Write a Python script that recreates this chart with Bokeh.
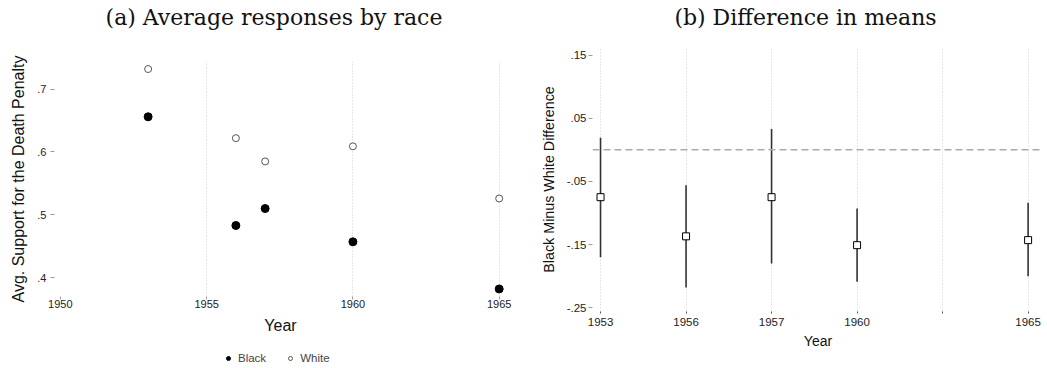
from bokeh.plotting import figure
from bokeh.layouts import row, column
from bokeh.models import ColumnDataSource, FixedTicker, Legend, LegendItem, Span, Range1d, Label
from bokeh.embed import file_html
from bokeh.resources import INLINE

# Average support for the death penalty, by survey year and race
years = [1953, 1956, 1957, 1960, 1965]
black_mean = [0.656, 0.483, 0.510, 0.457, 0.382]
white_mean = [0.732, 0.622, 0.585, 0.609, 0.526]

# Black minus white difference with confidence interval
diff_slots = ["1953", "1956", "1957", "1960", "", "1965"]
diff_years = ["1953", "1956", "1957", "1960", "1965"]
diff_est = [-0.075, -0.137, -0.075, -0.151, -0.143]
diff_lo = [-0.170, -0.218, -0.180, -0.209, -0.200]
diff_hi = [0.019, -0.056, 0.033, -0.093, -0.084]

x_ticks_a = [1950, 1955, 1960, 1965]
x_grid_a = [1955, 1960, 1965]
y_ticks_a = [0.4, 0.5, 0.6, 0.7]
y_ticks_b = [-0.25, -0.15, -0.05, 0.05, 0.15]

SANS = "Liberation Sans"
SERIF = "DejaVu Serif"


def stata_fmt(v):
    s = ("%g" % v)
    if s.startswith("0."):
        s = s[1:]
    elif s.startswith("-0."):
        s = "-" + s[2:]
    return s


def strip(width, height):
    """Blank canvas with no axes, used for titles and the legend."""
    s = figure(width=width, height=height, output_backend="svg", toolbar_location=None,
               x_axis_type=None, y_axis_type=None, min_border=0,
               x_range=Range1d(0, 1), y_range=Range1d(0, 1))
    s.outline_line_color = None
    s.grid.visible = False
    return s


def title_strip(width, text, cx):
    s = strip(width, 40)
    s.add_layout(Label(x=cx, y=0.575, text=text, text_align="center",
                       text_baseline="middle", text_font=SERIF,
                       text_font_size="22px", text_color="#111111"))
    return s


def style_axes(p, tick_size, label_size):
    for ax in (p.xaxis[0], p.yaxis[0]):
        ax.axis_line_color = None
        ax.major_tick_line_color = "#9a9a9a"
        ax.major_tick_out = 4
        ax.major_tick_in = 0
        ax.minor_tick_line_color = None
        ax.major_label_text_font = SANS
        ax.major_label_text_font_size = tick_size
        ax.major_label_text_color = "#222222"
        ax.axis_label_text_font = SANS
        ax.axis_label_text_font_size = label_size
        ax.axis_label_text_font_style = "normal"
        ax.axis_label_text_color = "#111111"
    p.ygrid.grid_line_color = None
    p.xgrid.grid_line_color = "#cfcfcf"
    p.xgrid.grid_line_dash = "1 2"
    p.xgrid.grid_line_width = 1
    p.outline_line_color = None


# ---- panel (a) ----
ta = title_strip(520, "(a) Average responses by race", 0.4856)

pa = figure(width=520, height=304, output_backend="svg", toolbar_location=None,
            x_range=Range1d(1949.8, 1965.25), y_range=Range1d(0.370, 0.744),
            min_border_left=54, min_border_right=14, min_border_top=21, min_border_bottom=48)
style_axes(pa, "11px", "16px")
pa.xaxis.ticker = FixedTicker(ticks=x_ticks_a)
pa.xgrid.ticker = FixedTicker(ticks=x_grid_a)
pa.yaxis.ticker = FixedTicker(ticks=y_ticks_a)
pa.yaxis.major_label_overrides = {v: stata_fmt(v) for v in y_ticks_a}
pa.xaxis.axis_label = "Year"
pa.yaxis.axis_label = "Avg. Support for the Death Penalty"
pa.xaxis.major_tick_out = 3
pa.xaxis.major_label_standoff = 0
pa.xaxis.axis_label_standoff = 6
pa.yaxis.major_label_standoff = 4
pa.yaxis.axis_label_standoff = 7

src_a = ColumnDataSource(dict(year=years, black=black_mean, white=white_mean))
black_style = dict(size=8, marker="circle", fill_color="black", line_color="black")
white_style = dict(size=7, marker="circle", fill_color="white", line_color="#555555", line_width=1)
pa.scatter("year", "black", source=src_a, **black_style)
pa.scatter("year", "white", source=src_a, **white_style)

# legend strip under panel (a); its renderers hold no visible point
pleg = strip(520, 24)
leg_src = ColumnDataSource(dict(x=[float("nan")], y=[float("nan")]))
rb = pleg.scatter("x", "y", source=leg_src, **black_style)
rw = pleg.scatter("x", "y", source=leg_src, **white_style)
legend = Legend(items=[LegendItem(label="Black", renderers=[rb]),
                       LegendItem(label="White", renderers=[rw])],
                orientation="horizontal", location=(169, 4),
                label_text_font=SANS, label_text_font_size="11.5px",
                label_standoff=5, glyph_width=10, glyph_height=10,
                spacing=19, padding=2, margin=0,
                border_line_color=None, background_fill_alpha=0)
pleg.add_layout(legend)

# ---- panel (b) ----
tb = title_strip(527, "(b) Difference in means", 0.4723)

pb = figure(width=527, height=328, output_backend="svg", toolbar_location=None,
            x_range=Range1d(-0.094, 5.18), y_range=Range1d(-0.256, 0.162),
            min_border_left=72, min_border_right=4, min_border_top=7, min_border_bottom=57)
style_axes(pb, "11.5px", "14px")
slot_pos = list(range(len(diff_slots)))
pb.xaxis.ticker = FixedTicker(ticks=slot_pos)
pb.xgrid.ticker = FixedTicker(ticks=slot_pos)
pb.xaxis.major_label_overrides = {i: s for i, s in enumerate(diff_slots)}
pb.xaxis.major_tick_line_color = "#555555"
pb.xaxis.major_tick_out = 2
pb.yaxis.ticker = FixedTicker(ticks=y_ticks_b)
pb.yaxis.major_label_overrides = {v: stata_fmt(v) for v in y_ticks_b}
pb.xaxis.axis_label = "Year"
pb.yaxis.axis_label = "Black Minus White Difference"
pb.yaxis.axis_label_text_font_size = "14.3px"
pb.xaxis.major_label_standoff = 4
pb.xaxis.axis_label_standoff = 4
pb.yaxis.major_label_standoff = 2
pb.yaxis.axis_label_standoff = 7

pb.add_layout(Span(location=0, dimension="width", line_color="#aaaaaa",
                   line_dash="7 4", line_width=1.5))

diff_x = [diff_slots.index(y) for y in diff_years]
src_b = ColumnDataSource(dict(x=diff_x, est=diff_est, lo=diff_lo, hi=diff_hi))
pb.segment(x0="x", y0="lo", x1="x", y1="hi", source=src_b,
           line_color="#333333", line_width=1.6)
pb.scatter("x", "est", source=src_b, marker="square", size=7,
           fill_color="white", line_color="black", line_width=1)

layout = row(column(ta, pa, pleg), column(tb, pb))
open("out.html", "w").write(file_html(layout, INLINE))
